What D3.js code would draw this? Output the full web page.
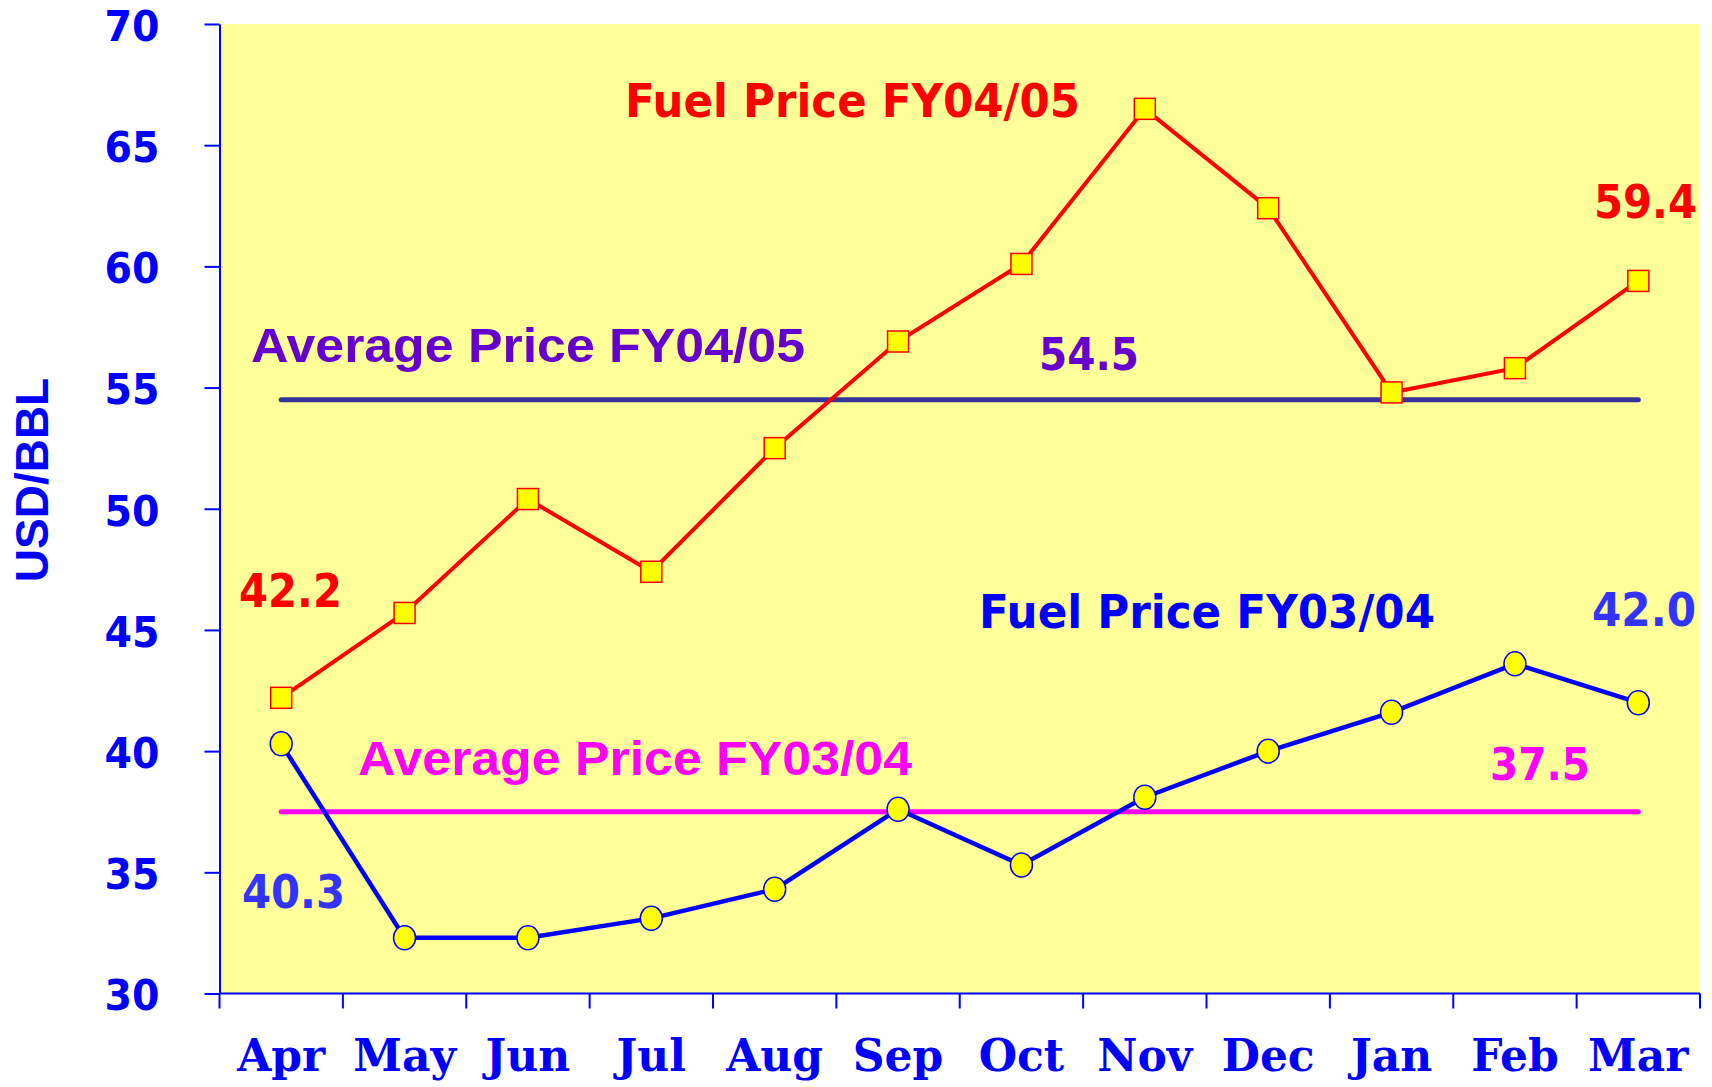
<!DOCTYPE html>
<html>
<head>
<meta charset="utf-8">
<script src="https://cdn.jsdelivr.net/npm/d3@7"></script>
<style>
  body { margin: 0; background: #ffffff; }
  svg { display: block; }
</style>
</head>
<body>
<svg id="drawing_region"></svg>
<script>
// chart data
const months = ['Apr', 'May', 'Jun', 'Jul', 'Aug', 'Sep', 'Oct', 'Nov', 'Dec', 'Jan', 'Feb', 'Mar'];
const fuel0405 = [42.2, 45.7, 50.4, 47.4, 52.5, 56.9, 60.1, 66.5, 62.4, 54.8, 55.8, 59.4];
const fuel0304 = [40.3, 32.3, 32.3, 33.1, 34.3, 37.6, 35.3, 38.1, 40.0, 41.6, 43.6, 42.0];
const avg0405 = 54.5;
const avg0304 = 37.5;
const yTicks = [30, 35, 40, 45, 50, 55, 60, 65, 70];

const config = {
    width: 1712,
    height: 1087,
    margin: {top: 24, right: 12, bottom: 93.5, left: 219.5}
};

const svg = d3.select('#drawing_region')
    .attr('width', config.width)
    .attr('height', config.height);

const inner_width = config.width - config.margin.left - config.margin.right;
const inner_height = config.height - config.margin.top - config.margin.bottom;

const chart = svg.append('g')
    .attr('transform', `translate(${config.margin.left}, ${config.margin.top})`);

const xscale = d3.scaleBand()
    .domain(months)
    .range([0, inner_width]);

const yscale = d3.scaleLinear()
    .domain([30, 70])
    .range([inner_height, 0]);

const cx = m => xscale(m) + xscale.bandwidth() / 2;

// plot background
chart.append('rect')
    .attr('x', 0).attr('y', 0)
    .attr('width', inner_width)
    .attr('height', inner_height)
    .attr('fill', '#ffff99');

// y axis
const yaxis = d3.axisLeft(yscale)
    .tickValues(yTicks)
    .tickSize(15)
    .tickPadding(45)
    .tickSizeOuter(0);

const yaxis_group = chart.append('g').call(yaxis);
yaxis_group.select('.domain').attr('stroke', '#0000ff').attr('stroke-width', 2);
yaxis_group.selectAll('.tick line').attr('stroke', '#0000ff').attr('stroke-width', 2);
yaxis_group.selectAll('.tick text')
    .attr('fill', '#0000ff')
    .attr('font-family', '"DejaVu Sans", Verdana, sans-serif')
    .attr('font-weight', 'bold')
    .attr('font-size', 43)
    .attr('dy', '0.38em')
    .attr('textLength', 55)
    .attr('lengthAdjust', 'spacingAndGlyphs');

// x axis: labels in band centres, ticks on band edges
const xaxis = d3.axisBottom(xscale)
    .tickSize(0)
    .tickSizeOuter(0);

const xaxis_group = chart.append('g')
    .attr('transform', `translate(0, ${inner_height})`)
    .call(xaxis);
xaxis_group.select('.domain').remove();
xaxis_group.selectAll('.tick text')
    .attr('fill', '#0000ff')
    .attr('font-family', '"DejaVu Serif", "Liberation Serif", serif')
    .attr('font-weight', 'bold')
    .attr('font-size', 44)
    .attr('y', 77)
    .attr('dy', 0);

xaxis_group.append('line')
    .attr('x1', 0).attr('x2', inner_width)
    .attr('stroke', '#0000ff').attr('stroke-width', 2);

const edges = months.map(m => xscale(m)).concat([xscale.range()[1]]);
xaxis_group.selectAll('line.edge')
    .data(edges)
    .join('line')
    .attr('class', 'edge')
    .attr('x1', d => d).attr('x2', d => d)
    .attr('y1', 0).attr('y2', 15)
    .attr('stroke', '#0000ff').attr('stroke-width', 2);

// y axis title
svg.append('text')
    .attr('transform', 'translate(48, 480) rotate(-90)')
    .attr('text-anchor', 'middle')
    .attr('fill', '#0000ff')
    .attr('font-family', '"Liberation Sans", Arial, sans-serif')
    .attr('font-weight', 'bold')
    .attr('font-size', 46)
    .text('USD/BBL');

// average lines
const avgLines = [
    {value: avg0405, color: '#333399'},
    {value: avg0304, color: '#ff00ff'}
];
chart.selectAll('line.avg')
    .data(avgLines)
    .join('line')
    .attr('class', 'avg')
    .attr('x1', cx(months[0]))
    .attr('x2', cx(months[months.length - 1]))
    .attr('y1', d => yscale(d.value))
    .attr('y2', d => yscale(d.value))
    .attr('stroke', d => d.color)
    .attr('stroke-width', 5)
    .attr('stroke-linecap', 'round');

// series lines
const line = d3.line()
    .x((d, i) => cx(months[i]))
    .y(d => yscale(d));

chart.append('path')
    .datum(fuel0304)
    .attr('d', line)
    .attr('fill', 'none')
    .attr('stroke', '#0000ff')
    .attr('stroke-width', 4.5);

chart.append('path')
    .datum(fuel0405)
    .attr('d', line)
    .attr('fill', 'none')
    .attr('stroke', '#ff0000')
    .attr('stroke-width', 4);

// markers
chart.selectAll('ellipse.m0304')
    .data(fuel0304)
    .join('ellipse')
    .attr('class', 'm0304')
    .attr('cx', (d, i) => cx(months[i]))
    .attr('cy', d => yscale(d))
    .attr('rx', 11)
    .attr('ry', 12)
    .attr('fill', '#ffff00')
    .attr('stroke', '#0000ff')
    .attr('stroke-width', 1.5);

chart.selectAll('rect.m0405')
    .data(fuel0405)
    .join('rect')
    .attr('class', 'm0405')
    .attr('x', (d, i) => cx(months[i]) - 10.5)
    .attr('y', d => yscale(d) - 10.5)
    .attr('width', 21)
    .attr('height', 21)
    .attr('fill', '#ffff00')
    .attr('stroke', '#ff0000')
    .attr('stroke-width', 1.5);

// annotations
function label(text, x, y, width, color, size, family) {
    svg.append('text')
        .attr('x', x)
        .attr('y', y)
        .attr('fill', color)
        .attr('font-family', family)
        .attr('font-weight', 'bold')
        .attr('font-size', size)
        .attr('textLength', width)
        .attr('lengthAdjust', 'spacingAndGlyphs')
        .text(text);
}
const sans = '"DejaVu Sans", Verdana, sans-serif';
const arial = '"Liberation Sans", Arial, sans-serif';

label('Fuel Price FY04/05', 625, 117, 455, '#ff0000', 46, sans);
label('Fuel Price FY03/04', 979, 628, 456, '#0000ff', 46, sans);
label('Average Price FY04/05', 251, 362, 554, '#6600cc', 48, arial);
label('Average Price FY03/04', 358, 775, 554, '#ff00ff', 48, arial);
label(d3.format('.1f')(fuel0405[0]), 239, 607, 103, '#ff0000', 46, sans);
label(d3.format('.1f')(fuel0405[11]), 1594, 218, 103, '#ff0000', 46, sans);
label(d3.format('.1f')(fuel0304[0]), 242, 908, 103, '#3333ff', 46, sans);
label(d3.format('.1f')(fuel0304[11]), 1592, 626, 104, '#3333ff', 46, sans);
label(d3.format('.1f')(avg0405), 1039, 370, 100, '#6600cc', 45, sans);
label(d3.format('.1f')(avg0304), 1490, 780, 100, '#ff00ff', 45, sans);
</script>
</body>
</html>
